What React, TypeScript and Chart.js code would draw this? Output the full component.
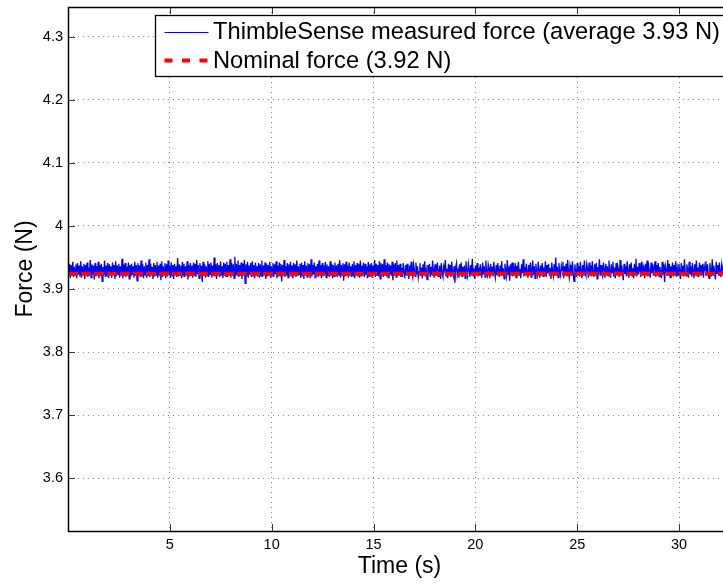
import React, { useEffect, useRef } from "react";
import { Chart, registerables } from "chart.js";

Chart.register(...registerables);

// ---------------- data ----------------
const SAMPLE_PERIOD_S = 0.039;

const MEASURED_FORCE_N = [
  3.936,3.921,3.940,3.918,3.938,3.924,3.943,3.919,3.935,3.922,3.939,3.917,3.941,3.923,3.937,3.920,3.944,3.918,3.936,3.925,
  3.940,3.916,3.938,3.922,3.942,3.919,3.934,3.921,3.946,3.918,3.939,3.923,3.937,3.915,3.941,3.920,3.936,3.924,3.943,3.917,
  3.938,3.921,3.940,3.912,3.935,3.922,3.945,3.919,3.937,3.920,3.941,3.917,3.939,3.924,3.936,3.918,3.942,3.921,3.938,3.916,
  3.944,3.920,3.937,3.923,3.940,3.918,3.936,3.922,3.948,3.917,3.939,3.921,3.941,3.919,3.935,3.924,3.942,3.916,3.938,3.920,
  3.940,3.922,3.936,3.918,3.943,3.921,3.938,3.913,3.941,3.923,3.937,3.919,3.945,3.920,3.939,3.917,3.936,3.922,3.942,3.918,
  3.938,3.921,3.947,3.919,3.940,3.923,3.935,3.916,3.941,3.920,3.938,3.922,3.943,3.918,3.937,3.921,3.940,3.914,3.944,3.919,
  3.936,3.923,3.941,3.917,3.939,3.920,3.945,3.922,3.937,3.918,3.942,3.921,3.938,3.916,3.940,3.924,3.936,3.919,3.949,3.920,
  3.939,3.922,3.937,3.917,3.943,3.921,3.940,3.919,3.936,3.923,3.944,3.915,3.938,3.920,3.941,3.922,3.937,3.918,3.942,3.921,
  3.940,3.919,3.946,3.923,3.938,3.917,3.941,3.920,3.937,3.911,3.943,3.922,3.939,3.918,3.936,3.921,3.944,3.919,3.940,3.923,
  3.942,3.918,3.937,3.921,3.950,3.920,3.939,3.916,3.941,3.923,3.938,3.919,3.944,3.921,3.936,3.917,3.942,3.922,3.940,3.920,
  3.943,3.919,3.938,3.922,3.947,3.918,3.941,3.921,3.939,3.917,3.951,3.920,3.940,3.923,3.945,3.919,3.938,3.921,3.942,3.916,
  3.940,3.922,3.946,3.909,3.939,3.920,3.943,3.918,3.937,3.923,3.941,3.919,3.944,3.921,3.938,3.917,3.942,3.922,3.936,3.920,
  3.941,3.918,3.939,3.921,3.945,3.919,3.937,3.923,3.942,3.916,3.940,3.920,3.938,3.922,3.943,3.918,3.936,3.921,3.941,3.919,
  3.939,3.923,3.944,3.917,3.937,3.920,3.942,3.921,3.940,3.912,3.938,3.922,3.946,3.919,3.936,3.921,3.941,3.918,3.939,3.923,
  3.943,3.920,3.937,3.917,3.941,3.922,3.939,3.919,3.945,3.921,3.936,3.923,3.940,3.918,3.942,3.920,3.938,3.916,3.944,3.922,
  3.937,3.919,3.941,3.921,3.939,3.917,3.947,3.920,3.938,3.923,3.942,3.918,3.936,3.921,3.940,3.919,3.945,3.922,3.938,3.917,
  3.941,3.920,3.937,3.923,3.943,3.918,3.939,3.921,3.936,3.919,3.944,3.922,3.940,3.917,3.938,3.920,3.942,3.923,3.937,3.919,
  3.940,3.921,3.946,3.918,3.938,3.922,3.941,3.913,3.939,3.920,3.943,3.921,3.937,3.918,3.942,3.923,3.936,3.919,3.940,3.921,
  3.944,3.917,3.938,3.922,3.941,3.920,3.939,3.918,3.945,3.921,3.937,3.923,3.942,3.919,3.940,3.922,3.936,3.917,3.943,3.920,
  3.939,3.921,3.941,3.918,3.937,3.923,3.946,3.919,3.940,3.922,3.938,3.920,3.944,3.916,3.941,3.921,3.939,3.919,3.947,3.922,
  3.938,3.920,3.942,3.918,3.940,3.923,3.937,3.921,3.943,3.914,3.939,3.922,3.941,3.919,3.945,3.921,3.938,3.923,3.940,3.919,
  3.933,3.919,3.941,3.926,3.917,3.938,3.922,3.940,3.929,3.916,3.937,3.921,3.943,3.925,3.918,3.939,3.931,3.920,3.942,3.923,
  3.936,3.918,3.927,3.941,3.921,3.934,3.917,3.939,3.924,3.944,3.920,3.930,3.915,3.938,3.926,3.940,3.919,3.935,3.922,3.945,
  3.928,3.918,3.939,3.921,3.933,3.942,3.920,3.927,3.937,3.916,3.941,3.924,3.919,3.936,3.930,3.946,3.921,3.932,3.917,3.940,
  3.925,3.938,3.919,3.943,3.928,3.921,3.936,3.910,3.934,3.941,3.922,3.929,3.918,3.939,3.926,3.942,3.920,3.935,3.923,3.937,
  3.917,3.944,3.927,3.920,3.940,3.931,3.919,3.938,3.924,3.948,3.921,3.933,3.916,3.937,3.925,3.941,3.920,3.934,3.922,3.939,
  3.929,3.918,3.942,3.923,3.936,3.919,3.945,3.926,3.921,3.939,3.932,3.917,3.940,3.924,3.935,3.920,3.943,3.927,3.918,3.938,
  3.922,3.941,3.930,3.919,3.937,3.925,3.944,3.921,3.933,3.916,3.940,3.928,3.920,3.946,3.923,3.936,3.913,3.939,3.926,3.942,
  3.920,3.934,3.923,3.941,3.918,3.937,3.929,3.943,3.921,3.932,3.917,3.939,3.925,3.947,3.920,3.935,3.922,3.940,3.927,3.918,
  3.938,3.924,3.942,3.919,3.931,3.945,3.922,3.936,3.917,3.940,3.926,3.921,3.943,3.930,3.918,3.937,3.923,3.941,3.920,3.934,
  3.927,3.944,3.919,3.938,3.925,3.940,3.921,3.933,3.916,3.942,3.928,3.920,3.939,3.924,3.950,3.922,3.935,3.918,3.941,3.926,
  3.921,3.937,3.929,3.943,3.917,3.936,3.923,3.940,3.920,3.946,3.927,3.918,3.938,3.931,3.921,3.944,3.924,3.912,3.939,3.928,
  3.919,3.941,3.925,3.936,3.920,3.943,3.930,3.917,3.938,3.922,3.945,3.926,3.921,3.940,3.933,3.918,3.942,3.924,3.937,3.920,
  3.944,3.927,3.919,3.939,3.923,3.941,3.916,3.935,3.928,3.947,3.921,3.938,3.925,3.920,3.942,3.931,3.918,3.940,3.924,3.936,
  3.921,3.945,3.929,3.918,3.939,3.926,3.943,3.920,3.934,3.917,3.941,3.923,3.937,3.930,3.919,3.946,3.922,3.938,3.927,3.914,
  3.940,3.924,3.936,3.920,3.944,3.928,3.918,3.939,3.925,3.942,3.921,3.933,3.917,3.940,3.926,3.948,3.920,3.935,3.923,3.941,
  3.929,3.919,3.943,3.922,3.937,3.931,3.917,3.940,3.924,3.945,3.920,3.936,3.927,3.918,3.942,3.925,3.939,3.921,3.934,3.944,
  3.919,3.938,3.926,3.941,3.920,3.935,3.928,3.917,3.943,3.923,3.939,3.911,3.937,3.930,3.921,3.946,3.924,3.940,3.918,3.936,
  3.927,3.942,3.920,3.938,3.925,3.944,3.919,3.933,3.922,3.940,3.929,3.916,3.941,3.924,3.937,3.920,3.947,3.926,3.921,3.939,
  3.931,3.918,3.943,3.923,3.936,3.920,3.941,3.928,3.917,3.939,3.925,3.945,3.921,3.934,3.919,3.942,3.927,3.938,3.922,3.940,
  3.918,3.936,3.929,3.944,3.921,3.939,3.924,3.917,3.941,3.930,3.920,3.947,3.923,3.937,3.926,3.915,3.943,3.925,3.938,3.921,
  3.942,3.926,3.919,3.940,3.932,3.921,3.945,3.924,3.937,3.918,3.941,3.928,3.920,3.943,3.925,3.936,3.919,3.939,3.927,3.922,
];

const NOMINAL_FORCE_N = 3.924;

const X_MIN = 0;
const X_MAX = 32.55;
const Y_MIN = 3.5163;
const Y_MAX = 4.3471;

const X_TICKS = [5, 10, 15, 20, 25, 30];
const X_TICK_LABELS = ["5", "10", "15", "20", "25", "30"];
const Y_TICKS = [3.6, 3.7, 3.8, 3.9, 4.0, 4.1, 4.2, 4.3];
const Y_TICK_LABELS = ["3.6", "3.7", "3.8", "3.9", "4", "4.1", "4.2", "4.3"];

const MEASURED_LABEL = "ThimbleSense measured force (average 3.93 N)";
const NOMINAL_LABEL = "Nominal force (3.92 N)";
const X_TITLE = "Time (s)";
const Y_TITLE = "Force (N)";

// ---------------- styling ----------------
const FONT = "'Liberation Sans', Arial, Helvetica, sans-serif";
const CANVAS_W = 760;
const CANVAS_H = 584;
const BLUE = "#0000ff";
const RED = "#ff0000";

const boxPlugin = {
  id: "matlabBox",
  afterDatasetsDraw(chart: any) {
    const { ctx, chartArea } = chart;
    const { left, right, top, bottom } = chartArea;
    const xs = chart.scales.x;
    const ys = chart.scales.y;
    const TL = 7;
    ctx.save();
    ctx.strokeStyle = "#3a3a3a";
    ctx.lineWidth = 1;
    ctx.beginPath();
    X_TICKS.forEach((v) => {
      const px = Math.round(xs.getPixelForValue(v)) + 0.5;
      ctx.moveTo(px, bottom);
      ctx.lineTo(px, bottom - TL);
      ctx.moveTo(px, top);
      ctx.lineTo(px, top + TL);
    });
    Y_TICKS.forEach((v) => {
      const py = Math.round(ys.getPixelForValue(v)) + 0.5;
      ctx.moveTo(left, py);
      ctx.lineTo(left + TL, py);
      ctx.moveTo(right, py);
      ctx.lineTo(right - TL, py);
    });
    ctx.stroke();
    ctx.strokeStyle = "#000";
    ctx.lineWidth = 1.5;
    ctx.strokeRect(left + 0.5, top + 0.5, right - left, bottom - top);
    ctx.restore();
  },
};

const legendPlugin = {
  id: "matlabLegend",
  afterDraw(chart: any) {
    const { ctx, chartArea } = chart;
    const ds = chart.data.datasets;
    const measured = ds.find((d: any) => d.id === "measured");
    const nominal = ds.find((d: any) => d.id === "nominal");
    ctx.save();
    ctx.font = `23.7px ${FONT}`;
    const x0 = chartArea.left + 87.5;
    const y0 = chartArea.top + 8.5;
    const tx = x0 + 57.5;
    const textW = Math.max(
      ctx.measureText(measured.label).width,
      ctx.measureText(nominal.label).width
    );
    const x1 = tx + textW + 14;
    const y1 = y0 + 61;
    ctx.fillStyle = "#fff";
    ctx.fillRect(x0, y0, x1 - x0, y1 - y0);
    ctx.strokeStyle = "#000";
    ctx.lineWidth = 1.3;
    ctx.strokeRect(x0, y0, x1 - x0, y1 - y0);

    const sx0 = x0 + 9;
    const sx1 = x0 + 53;
    const r1 = y0 + 16.5;
    const r2 = y0 + 45;

    ctx.beginPath();
    ctx.strokeStyle = measured.borderColor;
    ctx.lineWidth = 1;
    ctx.moveTo(sx0, Math.round(r1) + 0.5);
    ctx.lineTo(sx1, Math.round(r1) + 0.5);
    ctx.stroke();

    ctx.beginPath();
    ctx.strokeStyle = nominal.borderColor;
    ctx.lineWidth = 4;
    ctx.setLineDash([8, 9.5]);
    ctx.moveTo(sx0, r2);
    ctx.lineTo(sx1, r2);
    ctx.stroke();
    ctx.setLineDash([]);

    ctx.fillStyle = "#000";
    ctx.textBaseline = "middle";
    ctx.textAlign = "left";
    ctx.fillText(measured.label, tx, r1 + 0.5);
    ctx.fillText(nominal.label, tx, r2 + 0.5);
    ctx.restore();
  },
};

export default function App() {
  const ref = useRef<HTMLCanvasElement | null>(null);

  useEffect(() => {
    if (!ref.current) return;
    const measuredPoints = MEASURED_FORCE_N.map((y, i) => ({ x: i * SAMPLE_PERIOD_S, y }));
    const lastT = (MEASURED_FORCE_N.length - 1) * SAMPLE_PERIOD_S;
    const nominalPoints = [
      { x: X_MIN, y: NOMINAL_FORCE_N },
      { x: Math.max(lastT, X_MAX), y: NOMINAL_FORCE_N },
    ];

    const chart = new Chart(ref.current, {
      type: "line",
      data: {
        datasets: [
          {
            id: "nominal",
            label: NOMINAL_LABEL,
            data: nominalPoints,
            borderColor: RED,
            borderWidth: 4,
            borderDash: [10, 3],
            pointRadius: 0,
            tension: 0,
            order: 0,
          } as any,
          {
            id: "measured",
            label: MEASURED_LABEL,
            data: measuredPoints,
            borderColor: BLUE,
            borderWidth: 1.3,
            pointRadius: 0,
            tension: 0,
            order: 1,
          } as any,
        ],
      },
      options: {
        animation: false,
        responsive: false,
        devicePixelRatio: 1,
        events: [],
        layout: {
          autoPadding: false,
          padding: { left: 0, top: 7, right: CANVAS_W - 731, bottom: 0 },
        },
        plugins: {
          legend: { display: false },
          tooltip: { enabled: false },
        },
        scales: {
          x: {
            type: "linear",
            min: X_MIN,
            max: X_MAX,
            afterBuildTicks: (s: any) => {
              s.ticks = X_TICKS.map((v) => ({ value: v }));
            },
            afterFit: (s: any) => {
              s.height = 53;
              s.paddingLeft = 0;
              s.paddingRight = 0;
            },
            ticks: {
              autoSkip: false,
              maxRotation: 0,
              padding: 5,
              color: "#000",
              font: { family: FONT, size: 14.5 },
              callback: (_v: any, i: number) => X_TICK_LABELS[i],
            },
            grid: { color: "#8a8a8a", lineWidth: 1, drawTicks: false },
            border: { display: false, dash: [1, 4] },
            title: {
              display: true,
              text: X_TITLE,
              color: "#000",
              font: { family: FONT, size: 23 },
              padding: { top: 0, bottom: 4 },
            },
          },
          y: {
            type: "linear",
            min: Y_MIN,
            max: Y_MAX,
            afterBuildTicks: (s: any) => {
              s.ticks = Y_TICKS.map((v) => ({ value: v }));
            },
            afterFit: (s: any) => {
              s.width = 68;
              s.paddingTop = 0;
              s.paddingBottom = 0;
            },
            ticks: {
              autoSkip: false,
              padding: 5,
              color: "#000",
              font: { family: FONT, size: 14.5 },
              callback: (_v: any, i: number) => Y_TICK_LABELS[i],
            },
            grid: { color: "#8a8a8a", lineWidth: 1, drawTicks: false },
            border: { display: false, dash: [1, 4] },
            title: {
              display: true,
              text: Y_TITLE,
              color: "#000",
              font: { family: FONT, size: 23 },
              padding: { top: 12, bottom: 0 },
            },
          },
        },
      },
      plugins: [boxPlugin, legendPlugin],
    });
    return () => chart.destroy();
  }, []);

  return (
    <div
      style={{
        position: "fixed",
        left: 0,
        top: 0,
        width: 723,
        height: 584,
        overflow: "hidden",
        background: "#fff",
      }}
    >
      <canvas
        ref={ref}
        width={CANVAS_W}
        height={CANVAS_H}
        style={{ display: "block", position: "absolute", left: 0, top: 0 }}
      />
    </div>
  );
}
